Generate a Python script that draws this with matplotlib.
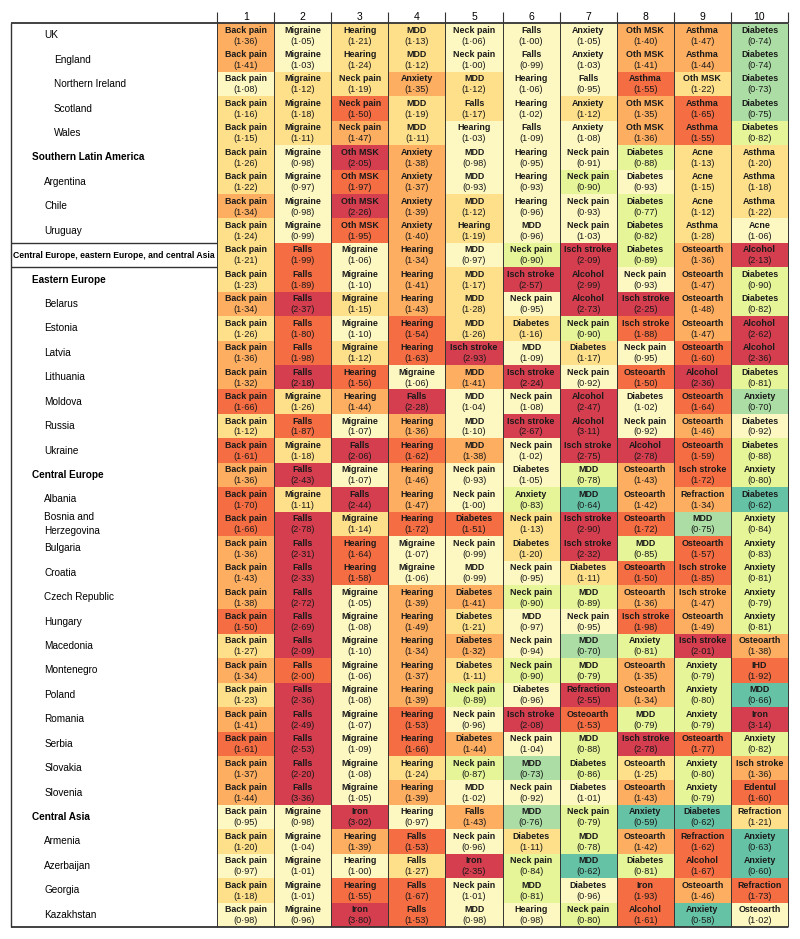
import numpy as np
import matplotlib.pyplot as plt
from matplotlib.colors import ListedColormap, BoundaryNorm

plt.rcParams['font.family'] = ['Liberation Sans', 'DejaVu Sans']

ranks = [str(i) for i in range(1, 11)]

locations = [
    'UK', 'England', 'Northern Ireland', 'Scotland', 'Wales',
    'Southern Latin America', 'Argentina', 'Chile', 'Uruguay',
    'Central Europe, eastern Europe, and central Asia',
    'Eastern Europe', 'Belarus', 'Estonia', 'Latvia', 'Lithuania', 'Moldova',
    'Russia', 'Ukraine',
    'Central Europe', 'Albania', 'Bosnia and\nHerzegovina', 'Bulgaria', 'Croatia',
    'Czech Republic', 'Hungary', 'Macedonia', 'Montenegro', 'Poland', 'Romania',
    'Serbia', 'Slovakia', 'Slovenia',
    'Central Asia', 'Armenia', 'Azerbaijan', 'Georgia', 'Kazakhstan',
]
# 0 = super-region, 1 = region, 2 = country, 3 = subnational
levels = [2, 3, 3, 3, 3,
          1, 2, 2, 2,
          0,
          1, 2, 2, 2, 2, 2, 2, 2,
          1, 2, 2, 2, 2, 2, 2, 2, 2, 2, 2, 2, 2, 2,
          1, 2, 2, 2, 2]

causes = [
    ['Back pain', 'Migraine', 'Hearing', 'MDD', 'Neck pain', 'Falls', 'Anxiety', 'Oth MSK', 'Asthma', 'Diabetes'],
    ['Back pain', 'Migraine', 'Hearing', 'MDD', 'Neck pain', 'Falls', 'Anxiety', 'Oth MSK', 'Asthma', 'Diabetes'],
    ['Back pain', 'Migraine', 'Neck pain', 'Anxiety', 'MDD', 'Hearing', 'Falls', 'Asthma', 'Oth MSK', 'Diabetes'],
    ['Back pain', 'Migraine', 'Neck pain', 'MDD', 'Falls', 'Hearing', 'Anxiety', 'Oth MSK', 'Asthma', 'Diabetes'],
    ['Back pain', 'Migraine', 'Neck pain', 'MDD', 'Hearing', 'Falls', 'Anxiety', 'Oth MSK', 'Asthma', 'Diabetes'],
    ['Back pain', 'Migraine', 'Oth MSK', 'Anxiety', 'MDD', 'Hearing', 'Neck pain', 'Diabetes', 'Acne', 'Asthma'],
    ['Back pain', 'Migraine', 'Oth MSK', 'Anxiety', 'MDD', 'Hearing', 'Neck pain', 'Diabetes', 'Acne', 'Asthma'],
    ['Back pain', 'Migraine', 'Oth MSK', 'Anxiety', 'MDD', 'Hearing', 'Neck pain', 'Diabetes', 'Acne', 'Asthma'],
    ['Back pain', 'Migraine', 'Oth MSK', 'Anxiety', 'Hearing', 'MDD', 'Neck pain', 'Diabetes', 'Asthma', 'Acne'],
    ['Back pain', 'Falls', 'Migraine', 'Hearing', 'MDD', 'Neck pain', 'Isch stroke', 'Diabetes', 'Osteoarth', 'Alcohol'],
    ['Back pain', 'Falls', 'Migraine', 'Hearing', 'MDD', 'Isch stroke', 'Alcohol', 'Neck pain', 'Osteoarth', 'Diabetes'],
    ['Back pain', 'Falls', 'Migraine', 'Hearing', 'MDD', 'Neck pain', 'Alcohol', 'Isch stroke', 'Osteoarth', 'Diabetes'],
    ['Back pain', 'Falls', 'Migraine', 'Hearing', 'MDD', 'Diabetes', 'Neck pain', 'Isch stroke', 'Osteoarth', 'Alcohol'],
    ['Back pain', 'Falls', 'Migraine', 'Hearing', 'Isch stroke', 'MDD', 'Diabetes', 'Neck pain', 'Osteoarth', 'Alcohol'],
    ['Back pain', 'Falls', 'Hearing', 'Migraine', 'MDD', 'Isch stroke', 'Neck pain', 'Osteoarth', 'Alcohol', 'Diabetes'],
    ['Back pain', 'Migraine', 'Hearing', 'Falls', 'MDD', 'Neck pain', 'Alcohol', 'Diabetes', 'Osteoarth', 'Anxiety'],
    ['Back pain', 'Falls', 'Migraine', 'Hearing', 'MDD', 'Isch stroke', 'Alcohol', 'Neck pain', 'Osteoarth', 'Diabetes'],
    ['Back pain', 'Migraine', 'Falls', 'Hearing', 'MDD', 'Neck pain', 'Isch stroke', 'Alcohol', 'Osteoarth', 'Diabetes'],
    ['Back pain', 'Falls', 'Migraine', 'Hearing', 'Neck pain', 'Diabetes', 'MDD', 'Osteoarth', 'Isch stroke', 'Anxiety'],
    ['Back pain', 'Migraine', 'Falls', 'Hearing', 'Neck pain', 'Anxiety', 'MDD', 'Osteoarth', 'Refraction', 'Diabetes'],
    ['Back pain', 'Falls', 'Migraine', 'Hearing', 'Diabetes', 'Neck pain', 'Isch stroke', 'Osteoarth', 'MDD', 'Anxiety'],
    ['Back pain', 'Falls', 'Hearing', 'Migraine', 'Neck pain', 'Diabetes', 'Isch stroke', 'MDD', 'Osteoarth', 'Anxiety'],
    ['Back pain', 'Falls', 'Hearing', 'Migraine', 'MDD', 'Neck pain', 'Diabetes', 'Osteoarth', 'Isch stroke', 'Anxiety'],
    ['Back pain', 'Falls', 'Migraine', 'Hearing', 'Diabetes', 'Neck pain', 'MDD', 'Osteoarth', 'Isch stroke', 'Anxiety'],
    ['Back pain', 'Falls', 'Migraine', 'Hearing', 'Diabetes', 'MDD', 'Neck pain', 'Isch stroke', 'Osteoarth', 'Anxiety'],
    ['Back pain', 'Falls', 'Migraine', 'Hearing', 'Diabetes', 'Neck pain', 'MDD', 'Anxiety', 'Isch stroke', 'Osteoarth'],
    ['Back pain', 'Falls', 'Migraine', 'Hearing', 'Diabetes', 'Neck pain', 'MDD', 'Osteoarth', 'Anxiety', 'IHD'],
    ['Back pain', 'Falls', 'Migraine', 'Hearing', 'Neck pain', 'Diabetes', 'Refraction', 'Osteoarth', 'Anxiety', 'MDD'],
    ['Back pain', 'Falls', 'Migraine', 'Hearing', 'Neck pain', 'Isch stroke', 'Osteoarth', 'MDD', 'Anxiety', 'Iron'],
    ['Back pain', 'Falls', 'Migraine', 'Hearing', 'Diabetes', 'Neck pain', 'MDD', 'Isch stroke', 'Osteoarth', 'Anxiety'],
    ['Back pain', 'Falls', 'Migraine', 'Hearing', 'Neck pain', 'MDD', 'Diabetes', 'Osteoarth', 'Anxiety', 'Isch stroke'],
    ['Back pain', 'Falls', 'Migraine', 'Hearing', 'MDD', 'Neck pain', 'Diabetes', 'Osteoarth', 'Anxiety', 'Edentul'],
    ['Back pain', 'Migraine', 'Iron', 'Hearing', 'Falls', 'MDD', 'Neck pain', 'Anxiety', 'Diabetes', 'Refraction'],
    ['Back pain', 'Migraine', 'Hearing', 'Falls', 'Neck pain', 'Diabetes', 'MDD', 'Osteoarth', 'Refraction', 'Anxiety'],
    ['Back pain', 'Migraine', 'Hearing', 'Falls', 'Iron', 'Neck pain', 'MDD', 'Diabetes', 'Alcohol', 'Anxiety'],
    ['Back pain', 'Migraine', 'Hearing', 'Falls', 'Neck pain', 'MDD', 'Diabetes', 'Iron', 'Osteoarth', 'Refraction'],
    ['Back pain', 'Migraine', 'Iron', 'Falls', 'MDD', 'Hearing', 'Neck pain', 'Alcohol', 'Anxiety', 'Osteoarth'],
]

ratios = [
    [1.36, 1.05, 1.21, 1.13, 1.06, 1.00, 1.05, 1.40, 1.47, 0.74],
    [1.41, 1.03, 1.24, 1.12, 1.00, 0.99, 1.03, 1.41, 1.44, 0.74],
    [1.08, 1.12, 1.19, 1.35, 1.12, 1.06, 0.95, 1.55, 1.22, 0.73],
    [1.16, 1.18, 1.50, 1.19, 1.17, 1.02, 1.12, 1.35, 1.65, 0.75],
    [1.15, 1.11, 1.47, 1.11, 1.03, 1.09, 1.08, 1.36, 1.55, 0.82],
    [1.26, 0.98, 2.05, 1.38, 0.98, 0.95, 0.91, 0.88, 1.13, 1.20],
    [1.22, 0.97, 1.97, 1.37, 0.93, 0.93, 0.90, 0.93, 1.15, 1.18],
    [1.34, 0.98, 2.26, 1.39, 1.12, 0.96, 0.93, 0.77, 1.12, 1.22],
    [1.24, 0.99, 1.95, 1.40, 1.19, 0.96, 1.03, 0.82, 1.28, 1.06],
    [1.21, 1.99, 1.06, 1.34, 0.97, 0.90, 2.09, 0.89, 1.36, 2.13],
    [1.23, 1.89, 1.10, 1.41, 1.17, 2.57, 2.99, 0.93, 1.47, 0.90],
    [1.34, 2.37, 1.15, 1.43, 1.28, 0.95, 2.73, 2.25, 1.48, 0.82],
    [1.26, 1.80, 1.10, 1.54, 1.26, 1.16, 0.90, 1.88, 1.47, 2.62],
    [1.36, 1.98, 1.12, 1.63, 2.93, 1.09, 1.17, 0.95, 1.60, 2.36],
    [1.32, 2.18, 1.56, 1.06, 1.41, 2.24, 0.92, 1.50, 2.36, 0.81],
    [1.66, 1.26, 1.44, 2.28, 1.04, 1.08, 2.47, 1.02, 1.64, 0.70],
    [1.12, 1.87, 1.07, 1.36, 1.10, 2.67, 3.11, 0.92, 1.46, 0.92],
    [1.61, 1.18, 2.06, 1.62, 1.38, 1.02, 2.75, 2.78, 1.59, 0.88],
    [1.36, 2.43, 1.07, 1.46, 0.93, 1.05, 0.78, 1.43, 1.72, 0.80],
    [1.70, 1.11, 2.44, 1.47, 1.00, 0.83, 0.64, 1.42, 1.34, 0.62],
    [1.66, 2.78, 1.14, 1.72, 1.51, 1.13, 2.90, 1.72, 0.75, 0.84],
    [1.36, 2.31, 1.64, 1.07, 0.99, 1.20, 2.32, 0.85, 1.57, 0.83],
    [1.43, 2.33, 1.58, 1.06, 0.99, 0.95, 1.11, 1.50, 1.85, 0.81],
    [1.38, 2.72, 1.05, 1.39, 1.41, 0.90, 0.89, 1.36, 1.47, 0.79],
    [1.50, 2.69, 1.08, 1.49, 1.21, 0.97, 0.95, 1.98, 1.49, 0.81],
    [1.27, 2.09, 1.10, 1.34, 1.32, 0.94, 0.70, 0.81, 2.01, 1.38],
    [1.34, 2.00, 1.06, 1.37, 1.11, 0.90, 0.79, 1.35, 0.79, 1.92],
    [1.23, 2.36, 1.08, 1.39, 0.89, 0.96, 2.55, 1.34, 0.80, 0.66],
    [1.41, 2.49, 1.07, 1.53, 0.96, 2.08, 1.53, 0.79, 0.79, 3.14],
    [1.61, 2.53, 1.09, 1.66, 1.44, 1.04, 0.88, 2.78, 1.77, 0.82],
    [1.37, 2.20, 1.08, 1.24, 0.87, 0.73, 0.86, 1.25, 0.80, 1.36],
    [1.44, 3.36, 1.05, 1.39, 1.02, 0.92, 1.01, 1.43, 0.79, 1.60],
    [0.95, 0.98, 3.02, 0.97, 1.43, 0.76, 0.79, 0.59, 0.62, 1.21],
    [1.20, 1.04, 1.39, 1.53, 0.96, 1.11, 0.78, 1.42, 1.62, 0.63],
    [0.97, 1.01, 1.00, 1.27, 2.35, 0.84, 0.62, 0.81, 1.67, 0.60],
    [1.18, 1.01, 1.55, 1.67, 1.01, 0.81, 0.96, 1.93, 1.46, 1.73],
    [0.98, 0.96, 3.80, 1.53, 0.98, 0.98, 0.80, 1.61, 0.58, 1.02],
]

# ratio bins (observed / expected), roughly symmetric on a log scale
bounds = [0, 0.667, 0.765, 0.905, 1.105, 1.295, 1.495, 2.005, 10]
colors = ['#66c2a5', '#abdda4', '#e6f598', '#fdf8c2', '#fee08b', '#fdae61', '#f46d43', '#d53e4f']
cmap = ListedColormap(colors)
norm = BoundaryNorm(bounds, cmap.N)

values = np.array(ratios)
n_rows, n_cols = values.shape

# label panel width, in column units
label_w = 3.61
line_col = '#333333'

fig = plt.figure(figsize=(8, 9.39), dpi=100)
ax = fig.add_axes([11 / 800, 1 - 927 / 939, 777 / 800, 904 / 939])
ax.pcolormesh(np.arange(n_cols + 1), np.arange(n_rows + 1), values,
              cmap=cmap, norm=norm)
ax.set_xlim(-label_w, n_cols)
ax.set_ylim(n_rows, 0)
ax.axis('off')

# cell text
for i in range(n_rows):
    for j in range(n_cols):
        ax.text(j + 0.5, i + 0.29, causes[i][j], ha='center', va='center',
                fontsize=6.4, fontweight='bold', color='#1a1a1a')
        ax.text(j + 0.5, i + 0.74, f'({values[i, j]:.2f})'.replace('.', '\u00b7'),
                ha='center', va='center', fontsize=6.6, color='#1a1a1a')

# row labels
indent = {1: 0.36, 2: 0.58, 3: 0.75}
for i, name in enumerate(locations):
    lev = levels[i]
    if lev == 0:
        ax.text(-label_w / 2, i + 0.5, name, ha='center', va='center',
                fontsize=6.2, fontweight='bold')
    else:
        ax.text(-label_w + indent[lev], i + 0.5, name, ha='left', va='center',
                fontsize=7.2, fontweight='bold' if lev == 1 else 'normal',
                linespacing=1.5)

# header
for j, r in enumerate(ranks):
    ax.text(j + 0.5, -0.24, r, ha='center', va='center', fontsize=7.5)
ax.vlines(np.arange(n_cols + 1), -0.45, 0, color=line_col, lw=0.8, clip_on=False)

# grid and borders
ax.vlines(np.arange(n_cols + 1), 0, n_rows, color=line_col, lw=0.7, clip_on=False)
ax.hlines([0, n_rows], -label_w, n_cols, color=line_col, lw=1.3, clip_on=False)
ax.vlines(-label_w, 0, n_rows, color=line_col, lw=1.0, clip_on=False)
super_row = levels.index(0)
ax.hlines([super_row, super_row + 1], -label_w, 0, color=line_col, lw=1.0)

fig.savefig('out.png', dpi=100)
